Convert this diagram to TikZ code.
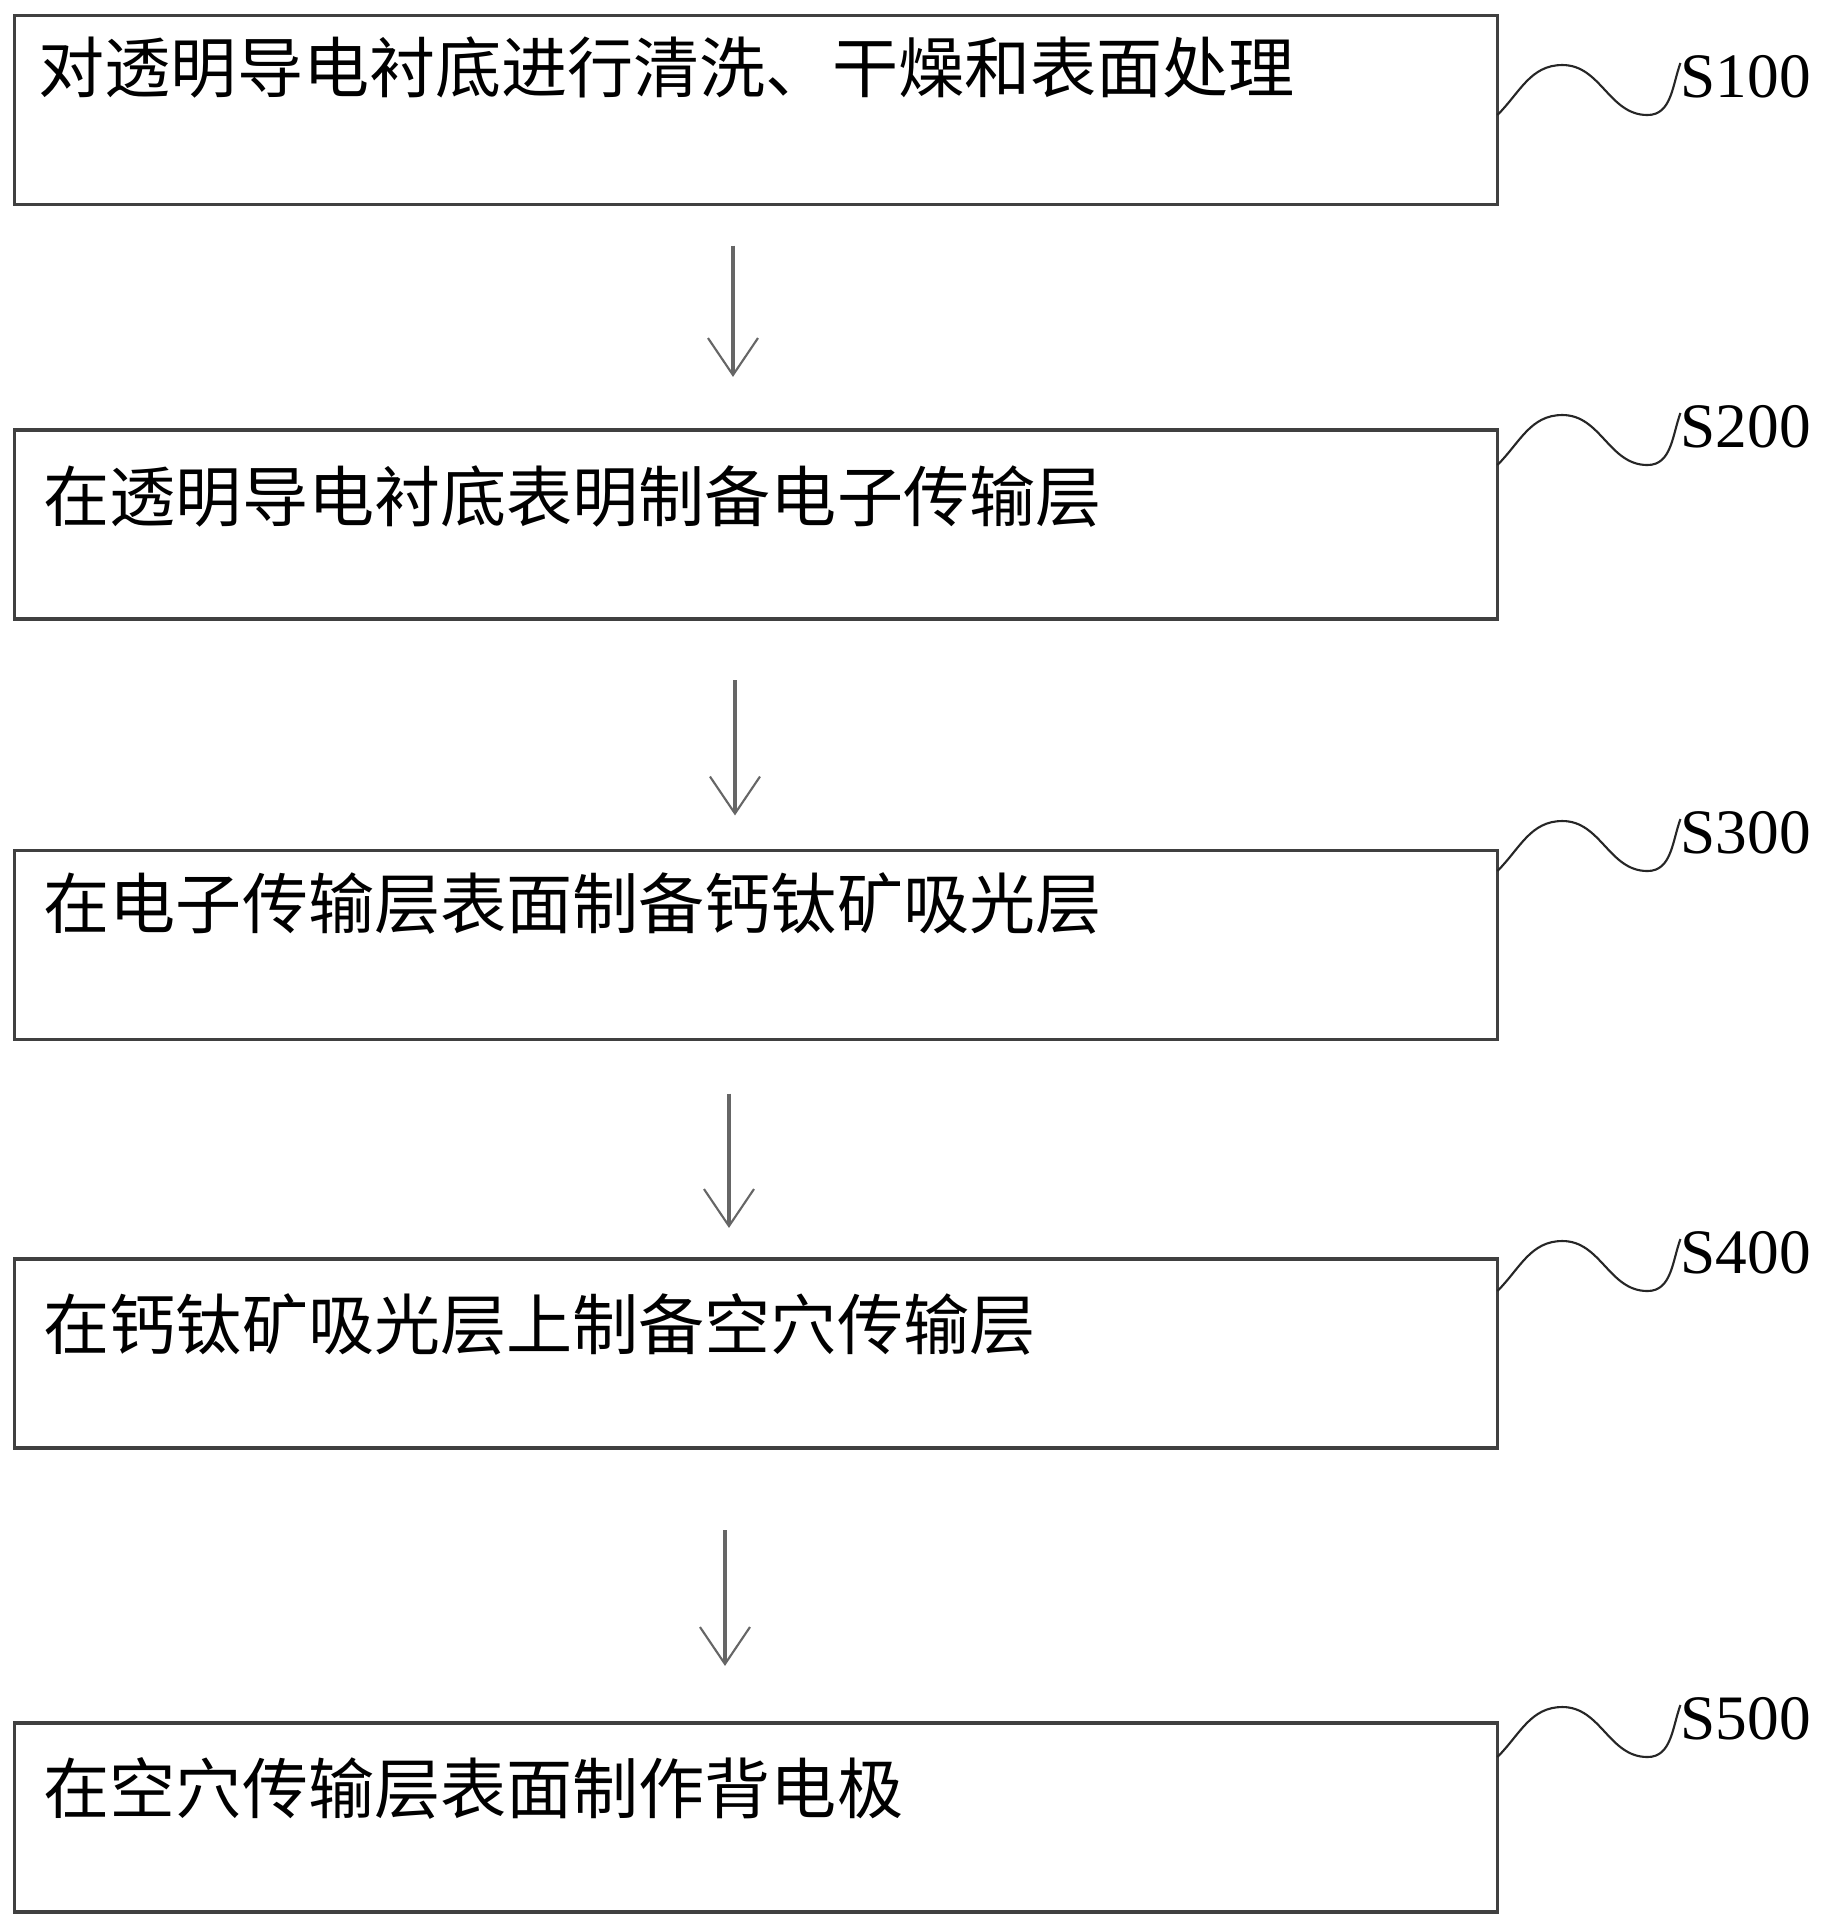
\documentclass[tikz,border=0pt]{standalone}
\usepackage{fontspec}
\newfontfamily\cjk{Noto Sans CJK SC}
\newfontfamily\steplabelfont{Liberation Serif}
\usepackage{tikz}
\usetikzlibrary{arrows.meta}

\tikzset{
	stepbox/.style = {draw = black!75, line width = 1pt, minimum width = 14.82cm, minimum height = 1.89cm, inner sep = 0pt, outer sep = 0pt},
	steptext/.style = {anchor = west, inner sep = 0pt, font = \cjk\fontsize{18.8pt}{22pt}\selectfont},
	steplabel/.style = {anchor = base west, inner sep = 0pt, font = \steplabelfont\fontsize{18pt}{20pt}\selectfont},
	leader/.style = {line width = .6pt, black!85},
	flow/.style = {-{Straight Barb[length = .37cm, width = .5cm, line width = .6pt]}, line width = .9pt, black!60}
}

\begin{document}
\begin{tikzpicture}[x = .01cm, y = .01cm]
	\fill[white] (0,0) rectangle (1821,-1929);
	% boxes
	\node[stepbox] (s1) at (756,-110) {};
	\node[stepbox] (s2) at (756,-524.5) {};
	\node[stepbox] (s3) at (756,-945) {};
	\node[stepbox] (s4) at (756,-1353.5) {};
	\node[stepbox] (s5) at (756,-1817.5) {};
	% texts
	\node[steptext] (t1) at (38,-67) {对透明导电衬底进行清洗、干燥和表面处理};
	\node[steptext] (t2) at (43,-497) {在透明导电衬底表明制备电子传输层};
	\node[steptext] (t3) at (43,-903) {在电子传输层表面制备钙钛矿吸光层};
	\node[steptext] (t4) at (43,-1324) {在钙钛矿吸光层上制备空穴传输层};
	\node[steptext] (t5) at (43,-1788) {在空穴传输层表面制作背电极};
	% labels
	\node[steplabel] (l1) at (1680,-97) {S100};
	\node[steplabel] (l2) at (1680,-447) {S200};
	\node[steplabel] (l3) at (1680,-853) {S300};
	\node[steplabel] (l4) at (1680,-1273) {S400};
	\node[steplabel] (l5) at (1680,-1739) {S500};
	% leaders
	\draw[leader] ([yshift = -.18cm]l1.base -| s1.east) to[out = 45, in = 180] ++(65,50) to[out = 0, in = 180] ++(85,-50) to[out = 0, in = -110] ++(33,52);
	\draw[leader] ([yshift = -.18cm]l2.base -| s2.east) to[out = 45, in = 180] ++(65,50) to[out = 0, in = 180] ++(85,-50) to[out = 0, in = -110] ++(33,52);
	\draw[leader] ([yshift = -.18cm]l3.base -| s3.east) to[out = 45, in = 180] ++(65,50) to[out = 0, in = 180] ++(85,-50) to[out = 0, in = -110] ++(33,52);
	\draw[leader] ([yshift = -.18cm]l4.base -| s4.east) to[out = 45, in = 180] ++(65,50) to[out = 0, in = 180] ++(85,-50) to[out = 0, in = -110] ++(33,52);
	\draw[leader] ([yshift = -.18cm]l5.base -| s5.east) to[out = 45, in = 180] ++(65,50) to[out = 0, in = 180] ++(85,-50) to[out = 0, in = -110] ++(33,52);
	% arrows
	\draw[flow, shorten <= .41cm, shorten >= .53cm] ([xshift = -.23cm]s1.south) -- ([xshift = -.23cm]s2.north);
	\draw[flow, shorten <= .61cm, shorten >= .35cm] ([xshift = -.21cm]s2.south) -- ([xshift = -.21cm]s3.north);
	\draw[flow, shorten <= .54cm, shorten >= .31cm] ([xshift = -.27cm]s3.south) -- ([xshift = -.27cm]s4.north);
	\draw[flow, shorten <= .82cm, shorten >= .57cm] ([xshift = -.31cm]s4.south) -- ([xshift = -.31cm]s5.north);
\end{tikzpicture}
\end{document}
